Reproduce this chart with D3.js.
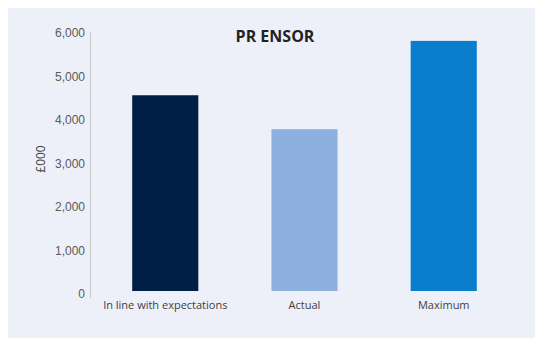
<!DOCTYPE html>
<html><head><meta charset="utf-8">
<script src="https://cdn.jsdelivr.net/npm/d3@7"></script>
<style>html,body{margin:0;padding:0;background:#fff;}</style>
</head><body>
<svg id="chart" width="535" height="338"></svg>
<script>
const categories = ["In line with expectations", "Actual", "Maximum"];
const values = [4500, 3720, 5750];
const barColors = ["#001f44", "#8eb0df", "#0a7dcc"];
const yTicks = [0, 1000, 2000, 3000, 4000, 5000, 6000];
const title = "PR ENSOR";
const yTitle = "£000";

const svg = d3.select("#chart");
svg.append("rect").attr("x", 8).attr("y", 8).attr("width", 527).attr("height", 330).attr("fill", "#edf0f9");

const y = d3.scaleLinear().domain([0, 6000]).range([291, 30]);
const x = d3.scaleBand().domain(categories).range([96, 513]).paddingInner(0.525).paddingOuter(0.26);

// axis line
svg.append("line").attr("x1", 90.5).attr("x2", 90.5).attr("y1", y(6000) + 2).attr("y2", y(0) + 7)
  .attr("stroke", "#c8c8c8").attr("stroke-width", 1);

const yAxis = d3.axisLeft(y).tickValues(yTicks).tickFormat(d3.format(",")).tickSize(0).tickPadding(0);
const ga = svg.append("g").attr("transform", "translate(85,3)").call(yAxis);
ga.select(".domain").remove();
ga.selectAll("text").attr("font-family", "Liberation Sans, Arial, sans-serif").attr("font-size", 12).attr("fill", "#595959");

svg.append("g").selectAll("rect").data(values).join("rect")
  .attr("x", (d, i) => x(categories[i]))
  .attr("width", x.bandwidth())
  .attr("y", d => y(d))
  .attr("height", d => y(0) - y(d))
  .attr("fill", (d, i) => barColors[i]);

const xAxis = d3.axisBottom(x).tickSize(0).tickPadding(0);
const gx = svg.append("g").attr("transform", "translate(0,301)").call(xAxis);
gx.select(".domain").remove();
gx.selectAll("text").attr("font-family", "Open Sans, sans-serif").attr("font-size", 11).attr("fill", "#404040");

svg.append("text").attr("x", 275).attr("y", 42).attr("text-anchor", "middle")
  .attr("font-family", "Open Sans, sans-serif").attr("font-weight", "bold").attr("font-size", 16).attr("fill", "#222")
  .text(title);

svg.append("text").attr("transform", "translate(45,159) rotate(-90)").attr("text-anchor", "middle")
  .attr("font-family", "Open Sans, sans-serif").attr("font-size", 12).attr("fill", "#404040")
  .text(yTitle);
</script>
</body></html>
